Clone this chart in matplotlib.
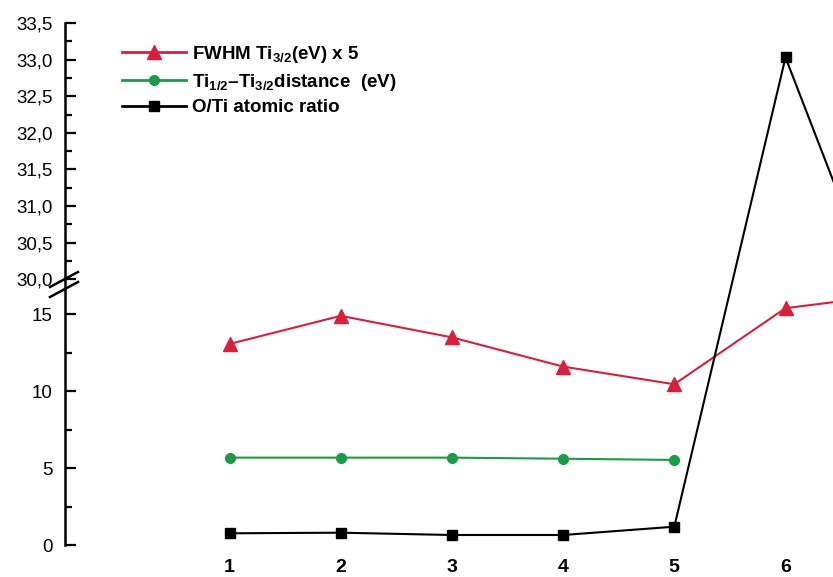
import numpy as np
import matplotlib
matplotlib.use('Agg')
import matplotlib.pyplot as plt

plt.rcParams['font.family'] = ['Liberation Sans', 'DejaVu Sans']
plt.rcParams['mathtext.fontset'] = 'custom'
plt.rcParams['mathtext.rm'] = 'Liberation Sans:bold'
plt.rcParams['mathtext.bf'] = 'Liberation Sans:bold'
plt.rcParams['mathtext.default'] = 'bf'

# data (sample 7 is only partly visible, cut at the right edge)
samples = [1, 2, 3, 4, 5, 6, 7]
fwhm_x5 = [13.07, 14.9, 13.5, 11.6, 10.45, 15.4, 16.3]
ti_dist = [5.68, 5.68, 5.68, 5.61, 5.53]
o_ti = [0.76, 0.80, 0.65, 0.65, 1.19, 33.03, 13.0]

x_ticks = [1, 2, 3, 4, 5, 6]
y_major = [0, 5, 10, 15, 30.0, 30.5, 31.0, 31.5, 32.0, 32.5, 33.0, 33.5]
y_labels = ['0', '5', '10', '15', '30,0', '30,5', '31,0', '31,5', '32,0', '32,5', '33,0', '33,5']
y_minor = [2.5, 7.5, 12.5, 30.25, 30.75, 31.25, 31.75, 32.25, 32.75, 33.25]

# broken y axis: 0..17 linear, 30..33.5 stretched, gap squeezed
LO, HI = 17.0, 30.0
T_HI = 17.28
K = 4.76


def fwd(y):
    y = np.asarray(y, dtype=float)
    return np.where(y <= LO, y,
                    np.where(y >= HI, T_HI + (y - HI) * K,
                             LO + (y - LO) * (T_HI - LO) / (HI - LO)))


def inv(t):
    t = np.asarray(t, dtype=float)
    return np.where(t <= LO, t,
                    np.where(t >= T_HI, HI + (t - T_HI) / K,
                             LO + (t - LO) * (HI - LO) / (T_HI - LO)))


red = '#d8203c'
green = '#1b9b48'

fig = plt.figure(figsize=(8.33, 5.77), dpi=100)
ax = fig.add_axes([65 / 833, 32 / 577, (833 - 65) / 833, (545 - 23) / 577])
ax.set_yscale('function', functions=(fwd, inv))

ax.plot(samples, fwhm_x5, color=red, lw=1.5, marker='^', ms=10,
        label='FWHM Ti$_{3/2}$(eV) x 5')
ax.plot(samples[:5], ti_dist, color=green, lw=1.5, marker='o', ms=7,
        label='Ti$_{1/2}$\u2013Ti$_{3/2}$distance  (eV)')
ax.plot(samples, o_ti, color='black', lw=1.5, marker='s', ms=6.5,
        label='O/Ti atomic ratio')

ax.set_xlim(1 - (229.5 - 65) / 111.2, 1 + (833 - 229.5) / 111.2)
ax.set_ylim(0, 33.5)

ax.set_yticks(y_major)
ax.set_yticklabels(y_labels)
ax.set_yticks(y_minor, minor=True)
ax.tick_params(axis='y', which='major', direction='in', length=8, width=1.6,
               labelsize=13.5, pad=9)
ax.tick_params(axis='y', which='minor', direction='in', length=5, width=1.6)

ax.set_xticks(x_ticks)
ax.set_xticklabels([str(v) for v in x_ticks], fontweight='bold')
ax.tick_params(axis='x', length=0, labelsize=14, pad=10)

for s in ['top', 'right', 'bottom']:
    ax.spines[s].set_visible(False)
ax.spines['left'].set_linewidth(1.8)

# break marks on the y axis
px = lambda x, y: fig.transFigure.inverted().transform((x, 577 - y))
for y0 in (287, 297):
    a = px(50, y0)
    b = px(78, y0 - 15)
    fig.add_artist(plt.Line2D([a[0], b[0]], [a[1], b[1]], color='black', lw=1.8,
                              transform=fig.transFigure))

leg = ax.legend(loc='upper left', bbox_to_anchor=(122 / 833, 1 - 44 / 577),
                bbox_transform=fig.transFigure, frameon=False,
                handlelength=3.4, handletextpad=0.35, labelspacing=0.35,
                borderpad=0, borderaxespad=0, prop={'weight': 'bold', 'size': 13.5})
for h in leg.get_lines():
    h.set_linewidth(2)

fig.savefig('out.png', dpi=100)
